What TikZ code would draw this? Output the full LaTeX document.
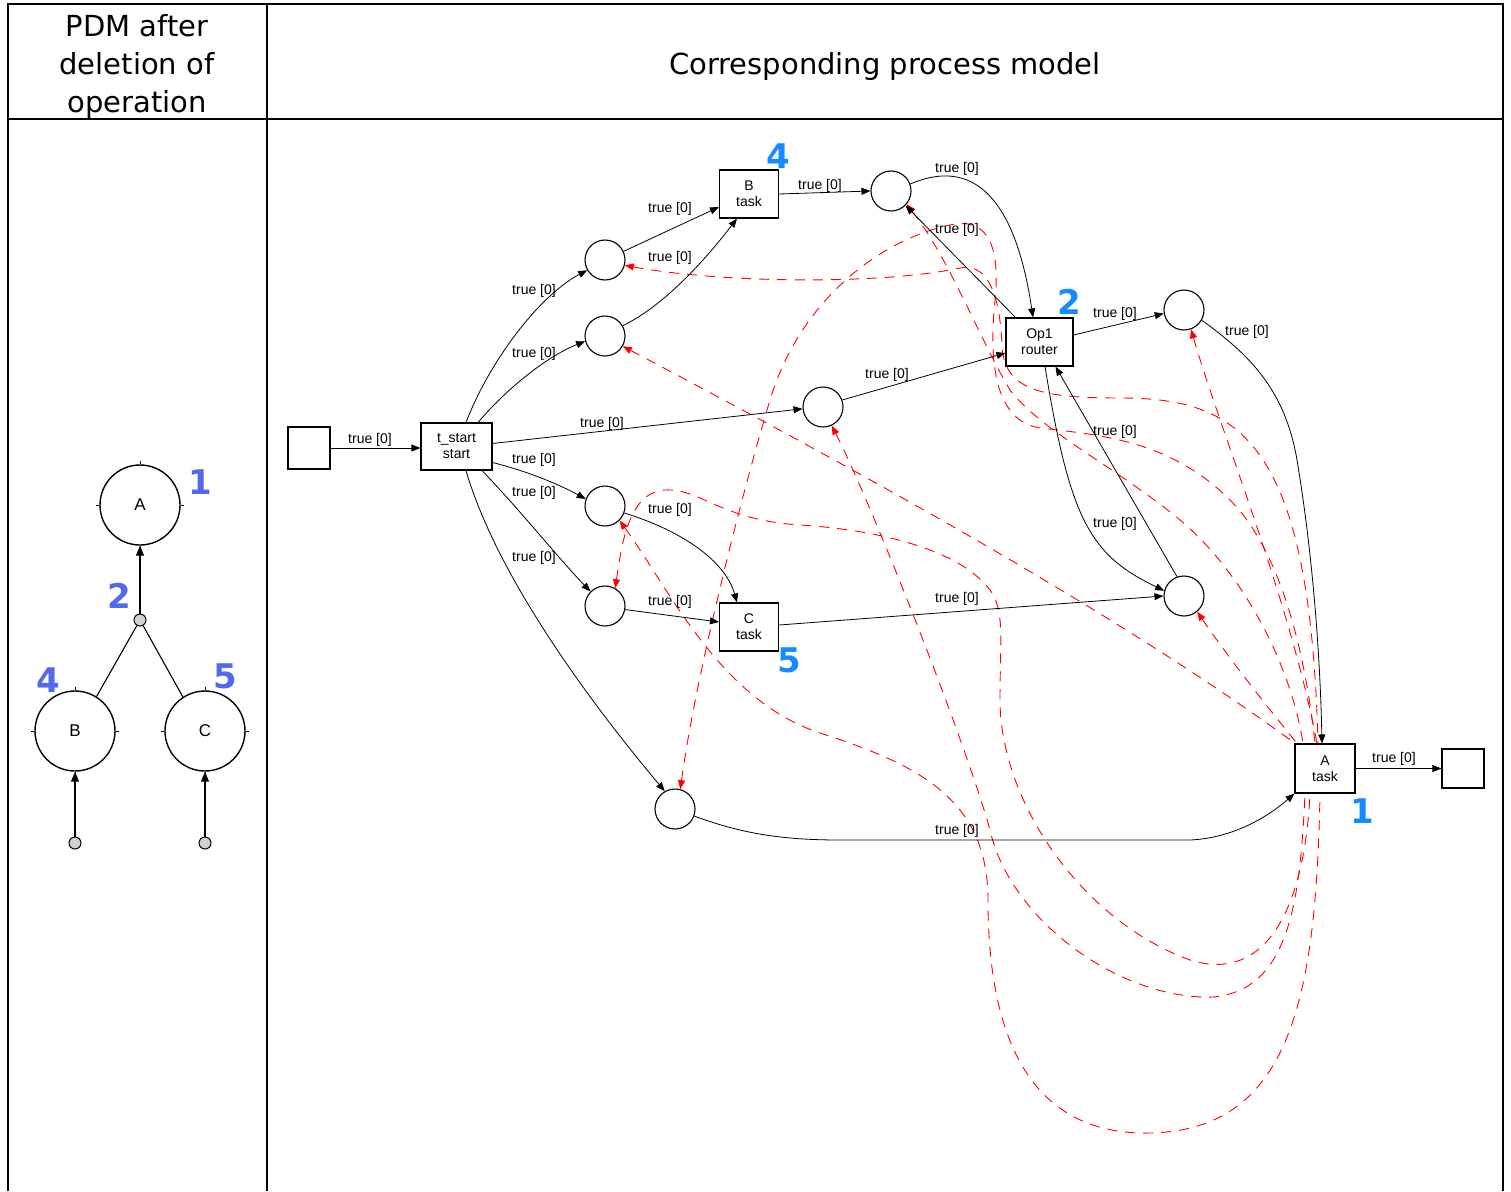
\documentclass[tikz,border=0pt]{standalone}
\usepackage{fontspec}
\setmainfont{DejaVu Sans}
\newfontfamily\lblfont{Liberation Sans}
\usetikzlibrary{arrows.meta}
\definecolor{pdmblue}{RGB}{84,104,238}
\definecolor{numblue}{RGB}{20,140,255}
\definecolor{arcred}{RGB}{255,0,0}
\begin{document}
\begin{tikzpicture}[x=1pt,y=-1pt,
  tbl/.style={line width=2pt},
  hdr/.style={font=\fontsize{29}{38}\selectfont, align=center, inner sep=0},
  place/.style={circle, draw, line width=1.1pt, minimum size=40pt, inner sep=0},
  trans/.style={rectangle, draw, line width=1.1pt, minimum width=59pt, minimum height=48pt, inner sep=0, align=center, font=\lblfont\fontsize{14}{16}\selectfont},
  lbl/.style={font=\lblfont\fontsize{14}{16}\selectfont, inner sep=0},
  arc/.style={line width=0.8pt, -{Triangle[length=9pt,width=7pt]}},
  redarc/.style={draw=arcred, line width=0.9pt, dash pattern=on 10pt off 8pt, {Triangle[length=9pt,width=7pt]}-},
  num/.style={font=\bfseries\fontsize{34}{34}\selectfont, text=numblue, inner sep=0},
  pnum/.style={font=\bfseries\fontsize{34}{34}\selectfont, text=pdmblue, inner sep=0},
  pdmnode/.style={circle, draw, line width=1.4pt, minimum size=80pt, inner sep=0, font=\lblfont\fontsize{17}{17}\selectfont},
  dot/.style={circle, draw, fill=gray!35, line width=1pt, minimum size=12pt, inner sep=0},
  parc/.style={line width=1.2pt, -{Triangle[length=10pt,width=8pt]}},
]
\useasboundingbox (0,0) rectangle (1511,1191);
% table
\draw[tbl] (8,1191) -- (8,4) -- (1503,4) -- (1503,1191);
\draw[tbl] (8,119) -- (1503,119);
\draw[tbl] (267,4) -- (267,1191);
\node[hdr] (h1) at (137,66) {PDM after\\deletion of\\operation};
\node[hdr] (h2) at (885,66) {Corresponding process model};

% PDM
\node[pdmnode] (pA) at (140,505) {A};
\node[pdmnode] (pB) at (75,731) {B};
\node[pdmnode] (pC) at (205,731) {C};
\node[dot] (d2) at (140,620) {};
\node[dot] (dB) at (75,843) {};
\node[dot] (dC) at (205,843) {};
\foreach \n in {pA,pB,pC}{\foreach \a in {0,90,180,270}{\draw[line width=1pt] (\n.\a) -- ++(\a:3pt);}}
\draw[parc] (d2) -- (pA);
\draw[line width=1.1pt] (d2) -- (pB.58);
\draw[line width=1.1pt] (d2) -- (pC.123);
\draw[parc] (dB) -- (pB);
\draw[parc] (dC) -- (pC);
\node[pnum] (n1) at (200,482) {1};
\node[pnum] (n2) at (119,596) {2};
\node[pnum] (n4) at (48,680) {4};
\node[pnum] (n5) at (225,676) {5};

% process model nodes
\node[trans, minimum width=42pt, minimum height=42pt] (src) at (309,448) {};
\node[trans, minimum width=71pt, minimum height=47pt] (ts) at (456.5,446.5) {t\_start\\start};
\node[trans] (B) at (749,194) {B\\task};
\node[trans] (C) at (749,627) {C\\task};
\node[trans, minimum width=67pt] (Op) at (1039.5,342) {Op1\\router};
\node[trans, minimum width=60pt, minimum height=49pt] (A) at (1325,768.5) {A\\task};
\node[trans, minimum width=42pt, minimum height=39pt] (snk) at (1463,768.5) {};
\node[place] (P1) at (605,260) {};
\node[place] (P2) at (605,336) {};
\node[place] (P3) at (823,407) {};
\node[place] (P4) at (605,506) {};
\node[place] (P5) at (605,606) {};
\node[place] (P6) at (675,809) {};
\node[place] (P7) at (891,191) {};
\node[place] (P8) at (1184,310) {};
\node[place] (P9) at (1184,596) {};
\node[num] (m4) at (778,156) {4};
\node[num] (m2) at (1069,302) {2};
\node[num] (m5) at (789,660) {5};
\node[num] (m1) at (1362,811) {1};

% red arcs
\draw[redarc] (P1.-15) .. controls (720,283) and (880,285) .. (960,268) .. controls (990,262) and (1000,300) .. (1002,345) .. controls (1004,390) and (1040,398) .. (1120,398) .. controls (1240,398) and (1310,440) .. ([xshift=-7pt]A.north);
\draw[redarc] (P2.-30) .. controls (800,440) and (1100,600) .. ([xshift=-30pt]A.north);
\draw[redarc] (P3.-65) .. controls (870,500) and (965,740) .. (990,830) .. controls (1010,920) and (1120,1000) .. (1213,997) .. controls (1290,990) and (1300,900) .. ([xshift=-20pt]A.south);
\draw[redarc] (P4.-45) .. controls (670,590) and (720,700) .. (820,733) .. controls (920,765) and (988,800) .. (988,900) .. controls (988,1080) and (1060,1135) .. (1150,1133) .. controls (1290,1130) and (1316,1000) .. ([xshift=-5pt]A.south);
\draw[redarc] (P5.60) .. controls (622,540) and (630,492) .. (665,490) .. controls (700,488) and (720,520) .. (800,525) .. controls (880,530) and (960,550) .. (990,590) .. controls (1005,610) and (1000,640) .. (1000,700) .. controls (1000,800) and (1080,920) .. (1190,960) .. controls (1270,985) and (1305,900) .. ([xshift=-15pt]A.south);
\draw[redarc] (P6.75) .. controls (695,680) and (740,500) .. (770,400) .. controls (800,300) and (880,240) .. (950,225) .. controls (990,216) and (1000,250) .. (995,300) .. controls (990,350) and (990,420) .. (1040,428) .. controls (1100,435) and (1170,440) .. (1230,500) .. controls (1280,550) and (1305,650) .. ([xshift=-10pt]A.north);
\draw[redarc] (P7.-40) .. controls (950,260) and (980,340) .. (1010,390) .. controls (1040,430) and (1120,470) .. (1180,520) .. controls (1240,570) and (1290,660) .. ([xshift=-22pt]A.north);
\draw[redarc] (P8.-70) .. controls (1220,430) and (1290,600) .. ([xshift=-8pt]A.north);
\draw[redarc] (P9.-50) .. controls (1230,660) and (1270,710) .. ([xshift=-28pt]A.north);

% black arcs
\draw[arc] (src.east) -- (src.east -| ts.west);
\draw[arc] ([xshift=9.5pt]ts.north) .. controls (490,360) and (540,295) .. (P1.210);
\draw[arc] ([xshift=21.5pt]ts.north) .. controls (510,385) and (550,355) .. (P2.195);
\draw[arc] ([yshift=3pt]ts.east) -- (P3.185);
\draw[arc] ([yshift=-16pt]ts.east) .. controls (530,472) and (560,485) .. (P4.160);
\draw[arc] ([xshift=25.5pt]ts.south) .. controls (520,510) and (560,560) .. (P5.135);
\draw[arc] ([xshift=9.5pt]ts.south) .. controls (495,570) and (580,690) .. (P6.120);
\draw[arc] (P1.25) -- ([yshift=-13pt]B.west);
\draw[arc] (P2.30) .. controls (665,305) and (705,260) .. ([xshift=-12pt]B.south);
\draw[arc] (B.east) -- (P7.west);
\draw[arc] (P7.20) .. controls (990,150) and (1020,230) .. ([xshift=-6.5pt]Op.north);
\draw[arc] ([xshift=-24pt]Op.north) -- (P7.-45);
\draw[arc] (P3.20) -- ([yshift=-11pt]Op.west);
\draw[arc] ([yshift=7pt]Op.east) -- (P8.190);
\draw[arc] (P8.-30) .. controls (1250,355) and (1285,390) .. (1297,460) .. controls (1312,550) and (1320,650) .. ([xshift=-3pt]A.north);
\draw[arc] ([xshift=5.5pt]Op.south) .. controls (1070,520) and (1090,555) .. (P9.165);
\draw[arc] (P9.110) -- ([xshift=16pt]Op.south);
\draw[arc] (P4.-20) .. controls (680,530) and (725,560) .. ([xshift=-12pt]C.north);
\draw[arc] (P5.-10) -- ([yshift=5pt]C.west);
\draw[arc] ([yshift=2pt]C.east) -- (P9.west);
\draw[arc] (P6.-20) .. controls (740,833) and (780,840) .. (840,840) -- (1190,840) .. controls (1235,838) and (1270,815) .. (A.south west);
\draw[arc] (A.east) -- (snk.west);

% labels
\node[lbl] (l1) at (370,440) {true [0]};
\node[lbl] (l2) at (534,291) {true [0]};
\node[lbl] (l3) at (534,354) {true [0]};
\node[lbl] (l4) at (602,424) {true [0]};
\node[lbl] (l5) at (534,460) {true [0]};
\node[lbl] (l6) at (534,493) {true [0]};
\node[lbl] (l7) at (534,558) {true [0]};
\node[lbl] (l8) at (670,209) {true [0]};
\node[lbl] (l9) at (670,258) {true [0]};
\node[lbl] (l10) at (820,186) {true [0]};
\node[lbl] (l11) at (957,169) {true [0]};
\node[lbl] (l12) at (957,230) {true [0]};
\node[lbl] (l13) at (887,375) {true [0]};
\node[lbl] (l14) at (1115,314) {true [0]};
\node[lbl] (l15) at (1247,332) {true [0]};
\node[lbl] (l16) at (1115,432) {true [0]};
\node[lbl] (l17) at (1115,524) {true [0]};
\node[lbl] (l18) at (670,510) {true [0]};
\node[lbl] (l19) at (670,602) {true [0]};
\node[lbl] (l20) at (957,599) {true [0]};
\node[lbl] (l21) at (957,831) {true [0]};
\node[lbl] (l22) at (1394,759) {true [0]};
\end{tikzpicture}
\end{document}
